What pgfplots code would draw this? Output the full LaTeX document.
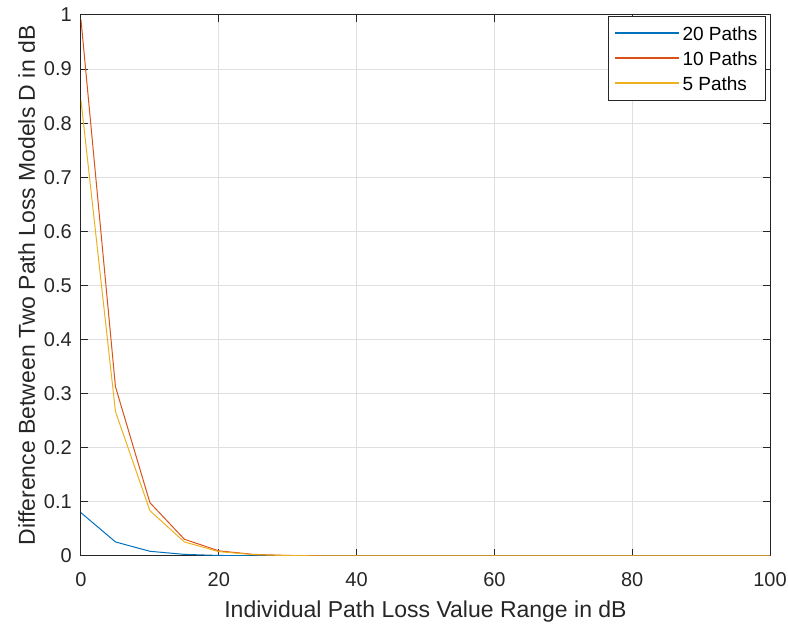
\documentclass[border=0pt]{standalone}
\usepackage{pgfplots}
\pgfplotsset{compat=1.18}
\usepackage{fontspec}
\setmainfont{Liberation Sans}

\definecolor{mblue}{rgb}{0,0.447,0.741}
\definecolor{mred}{rgb}{0.850,0.325,0.098}
\definecolor{myellow}{rgb}{0.929,0.694,0.125}
\definecolor{axgray}{HTML}{262626}
\definecolor{gridgray}{HTML}{DFDFDF}

\pgfplotstableread{
x    p20     p10     p5
0    0.080   0.991   0.842
5    0.026   0.313   0.267
10   0.0087  0.0986  0.0838
15   0.003   0.031   0.026
20   0.001   0.0095  0.008
25   0.0004  0.003   0.0025
30   0.0001  0.001   0.0008
35   0       0.0003  0.0002
40   0       0.0001  0
45   0       0       0
50   0       0       0
55   0       0       0
60   0       0       0
65   0       0       0
70   0       0       0
75   0       0       0
80   0       0       0
85   0       0       0
90   0       0       0
95   0       0       0
100  0       0       0
}\lossdata

% a plain legend line in a given colour
\pgfplotsset{
  legline/.style={legend image code/.code={%
    \draw[#1, line width=1.3pt] (0pt,0.5pt) -- (64pt,0.5pt);}},
}

\begin{document}
\begin{tikzpicture}
\begin{axis}[
  at={(0pt,0pt)}, anchor=south west,
  scale only axis,
  width=689pt, height=541pt,
  xmin=0, xmax=100, ymin=0, ymax=1,
  xtick={0,20,...,100},
  ytick={0,0.1,...,1.0},
  yticklabels={0,0.1,0.2,0.3,0.4,0.5,0.6,0.7,0.8,0.9,1},
  /pgf/number format/assume math mode=true,
  tick label style={font=\fontsize{20}{24}\selectfont, text=axgray},
  xticklabel style={anchor=base, yshift=-31pt},
  yticklabel style={anchor=east, inner xsep=0pt, xshift=-9pt},
  tick align=inside,
  major tick length=7pt,
  tick style={axgray, line width=1pt},
  axis line style={axgray, line width=1pt},
  grid=major,
  major grid style={gridgray, line width=1pt},
  xlabel={Individual Path Loss Value Range in dB},
  ylabel={Difference Between Two Path Loss Models D in dB},
  xlabel style={font=\fontsize{23}{27}\selectfont, text=axgray,
    at={(axis description cs:0.5,-0.1128)}, anchor=base},
  ylabel style={font=\fontsize{23}{27}\selectfont, text=axgray,
    at={(axis description cs:-0.0668,0.5)}, anchor=base, rotate=0},
  legend cell align=left,
  legend style={
    at={(rel axis cs:0.9942,0.998)}, anchor=north east,
    draw=axgray, line width=1pt, fill=white,
    font=\fontsize{19}{23}\selectfont,
    inner xsep=6pt, inner ysep=4.5pt,
    column sep=1pt,
    nodes={text height=16.5pt, text depth=2.5pt, inner ysep=3pt, inner xsep=2pt},
  },
  every axis plot/.append style={line width=1pt},
]
\addplot[draw=mblue, legline=mblue] table[x=x, y=p20] {\lossdata};
\addlegendentry{20 Paths}
\addplot[draw=mred, legline=mred] table[x=x, y=p10] {\lossdata};
\addlegendentry{10 Paths}
\addplot[draw=myellow, legline=myellow] table[x=x, y=p5] {\lossdata};
\addlegendentry{5 Paths}
\end{axis}
\pgfresetboundingbox
\path (-81pt,-70pt) rectangle (707pt,556pt);
\end{tikzpicture}
\end{document}
